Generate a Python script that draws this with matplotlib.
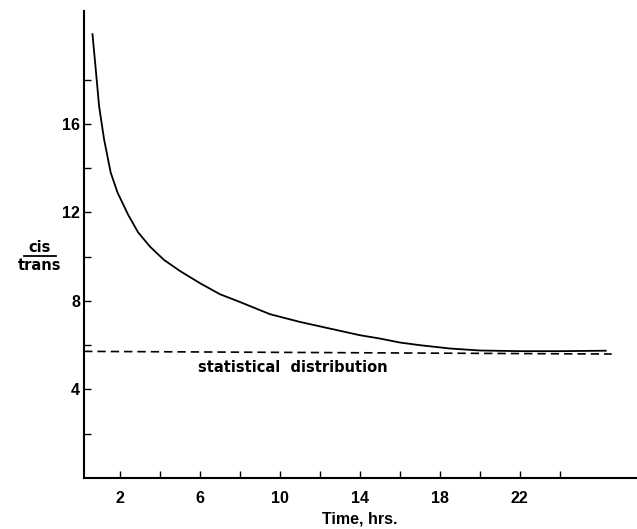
import matplotlib
matplotlib.use("Agg")
import matplotlib.pyplot as plt
from matplotlib.lines import Line2D

# cis/trans ratio vs time
time_hrs = [0.62, 0.78, 0.95, 1.2, 1.53, 1.87, 2.4, 2.9, 3.5, 4.2, 5.0, 6.0, 7.0, 8.0, 9.5,
            11.0, 12.5, 14.0, 15.0, 16.0, 17.0, 18.5, 20.0, 22.0, 24.0, 26.3]
cis_trans = [20.05, 18.5, 16.8, 15.3, 13.8, 12.9, 11.9, 11.1, 10.45, 9.85, 9.35, 8.8, 8.3, 7.95, 7.4,
             7.05, 6.75, 6.45, 6.3, 6.12, 6.0, 5.85, 5.76, 5.73, 5.73, 5.75]

# statistical distribution (dashed line)
stat_t = [0.2, 26.6]
stat_v = [5.72, 5.6]

x_major = [2, 6, 10, 14, 18, 22]
x_minor = [4, 8, 12, 16, 20, 24]
y_major = [4, 8, 12, 16]
y_minor = [2, 6, 10, 14, 18]

plt.rcParams['font.family'] = ['Liberation Sans', 'DejaVu Sans']

fig = plt.figure(figsize=(6.37, 5.29), dpi=100)
ax = fig.add_axes([0.132, 0.0964, 0.866, 0.883])

ax.plot(time_hrs, cis_trans, color='black', lw=1.3)
ax.plot(stat_t, stat_v, color='black', lw=1.2, linestyle=(0, (5, 3)))

ax.set_xlim(0.2, 27.8)
ax.set_ylim(0, 21.1)

for s in ['top', 'right']:
    ax.spines[s].set_visible(False)
for s in ['left', 'bottom']:
    ax.spines[s].set_linewidth(1.5)

ax.set_xticks(x_major)
ax.set_xticks(x_minor, minor=True)
ax.set_yticks(y_major)
ax.set_yticks(y_minor, minor=True)
ax.tick_params(which='both', direction='in', length=5, width=1.0)
ax.tick_params(axis='both', which='major', labelsize=11.5)
for lab in ax.get_xticklabels() + ax.get_yticklabels():
    lab.set_fontweight('bold')
ax.tick_params(axis='x', pad=9)
ax.tick_params(axis='y', pad=3)

ax.set_xlabel("Time, hrs.", fontsize=11.5, fontweight='bold', labelpad=4)

ax.text(5.9, 5.0, "statistical  distribution", fontsize=10.5, fontweight='bold',
        ha='left', va='center', family=['DejaVu Sans'])

# y label as cis over trans
fig.text(0.062, 1 - 248 / 529, "cis", fontsize=10.5, fontweight='bold', ha='center', va='center',
         family=['DejaVu Sans'])
fig.text(0.062, 1 - 266 / 529, "trans", fontsize=10.5, fontweight='bold', ha='center', va='center',
         family=['DejaVu Sans'])
fig.add_artist(Line2D([24 / 637, 56 / 637], [1 - 256 / 529, 1 - 256 / 529], color='black', lw=1.3))

fig.savefig("out.png", dpi=100)
